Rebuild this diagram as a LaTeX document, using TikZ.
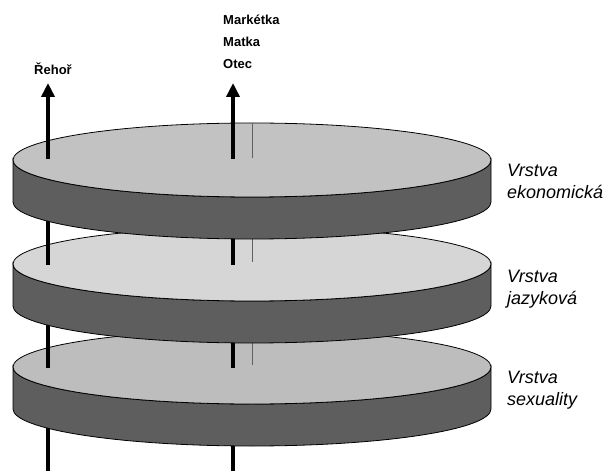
\documentclass[tikz,border=0pt]{standalone}
\usepackage{fontspec}
\setmainfont{Liberation Sans}
\usepackage{xcolor}
\usetikzlibrary{arrows.meta}
\definecolor{sidegray}{gray}{0.37}
\definecolor{topA}{gray}{0.76}
\definecolor{topB}{gray}{0.84}
\definecolor{topC}{gray}{0.74}
\definecolor{axisgray}{gray}{0.38}
\tikzset{every node/.append style={inner sep=0pt}}

% one layer: #1 = centre height, #2 = colour of the top face
\newcommand{\drawlayer}[2]{%
    \filldraw[fill=sidegray, draw=black, line width=0.8pt]
        (13,#1) -- (13,#1-42) arc[start angle=180, end angle=360, x radius=239, y radius=37]
        -- (491,#1) arc[start angle=0, end angle=-180, x radius=239, y radius=37] -- cycle;
    \filldraw[fill=#2, draw=black, line width=0.8pt] (252,#1) ellipse[x radius=239, y radius=37];
    \draw[axisgray, line width=1pt] (252,#1+37) -- (252,#1+2);
}

\begin{document}
\begin{tikzpicture}[x=1pt, y=1pt, >={Triangle[length=14pt, width=13pt]},
    rod/.style={line width=4pt, black}]
    \useasboundingbox (0,0) rectangle (609,471);
    % rod points on the top faces
    \coordinate (L0) at (48,0);    \coordinate (M0) at (233,0);
    \coordinate (L3) at (48,103);  \coordinate (M3) at (233,103);
    \coordinate (L2) at (48,206);  \coordinate (M2) at (233,206);
    \coordinate (L1) at (48,312);  \coordinate (M1) at (233,312);
    \coordinate (Ltip) at (48,388); \coordinate (Mtip) at (233,388);

    % bottom layer first, then upwards
    \draw[rod] (L0) -- (L3);
    \draw[rod] (M0) -- (M3);
    \drawlayer{104}{topC}
    \draw[rod] (L3) -- (L2);
    \draw[rod] (M3) -- (M2);
    \drawlayer{207}{topB}
    \draw[rod] (L2) -- (L1);
    \draw[rod] (M2) -- (M1);
    \drawlayer{311}{topA}
    \draw[rod, ->] (L1) -- (Ltip);
    \draw[rod, ->] (M1) -- (Mtip);

    % names above the arrows
    \node[anchor=base west, font=\fontsize{13}{22}\selectfont\bfseries] (rehor) at (34,396) {Řehoř};
    \node[anchor=north west, align=left, font=\fontsize{13}{22}\selectfont\bfseries] (rodina) at (223,456)
        {Markétka\\Matka\\Otec};

    % layer labels
    \node[anchor=north west, align=left, font=\fontsize{18}{22}\selectfont\itshape] (ekon) at (507,307)
        {Vrstva\\ekonomická};
    \node[anchor=north west, align=left, font=\fontsize{18}{22}\selectfont\itshape] (jazyk) at (507,201)
        {Vrstva\\jazyková};
    \node[anchor=north west, align=left, font=\fontsize{18}{22}\selectfont\itshape] (sex) at (507,100)
        {Vrstva\\sexuality};
\end{tikzpicture}
\end{document}
